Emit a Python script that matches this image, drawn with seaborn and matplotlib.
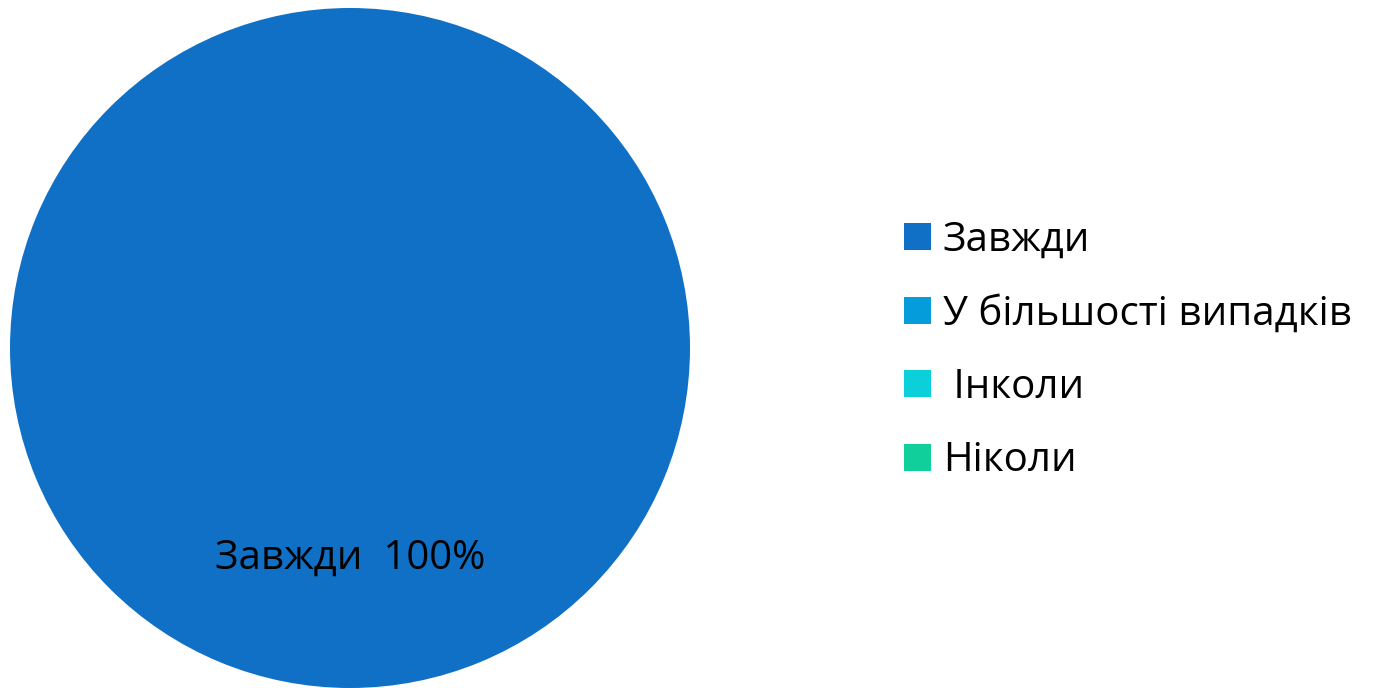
import matplotlib
matplotlib.use('Agg')
import matplotlib.pyplot as plt
import seaborn as sns

# data
categories = ['Завжди', 'У більшості випадків', ' Інколи', 'Ніколи']
values = [100, 0, 0, 0]
colors = ['#1070C6', '#049CDB', '#0BD0D9', '#10CF9B']

sns.set_theme(style='white')
plt.rcParams['font.family'] = ['Open Sans', 'DejaVu Sans']
plt.rcParams['text.color'] = 'black'

palette = sns.color_palette(colors)

fig = plt.figure(figsize=(13.78, 6.88), dpi=100)
ax = fig.add_axes([10 / 1378, 0, 680 / 1378, 680 / 688])


def fmt_label(pct):
    if pct < 0.5:
        return ''
    # the only non-empty slice is the first one
    return f'{categories[0]}  {pct:.0f}%'


wedges, texts, autotexts = ax.pie(
    values, colors=palette, startangle=90, counterclock=False,
    autopct=fmt_label, pctdistance=0.62, radius=1.0,
    wedgeprops=dict(linewidth=0),
    textprops=dict(fontsize=29, color='black'),
)
ax.set_xlim(-1, 1)
ax.set_ylim(-1, 1)
ax.set_aspect('equal')

leg = fig.legend(
    wedges, categories, loc='center left', bbox_to_anchor=(872 / 1378, 0.49),
    frameon=False, fontsize=29, handlelength=0.66, handleheight=0.66,
    handletextpad=0.3, labelspacing=0.82, borderpad=0.3,
)
for t in leg.get_texts():
    t.set_color('black')

fig.savefig('out.png', dpi=100, facecolor='white')
